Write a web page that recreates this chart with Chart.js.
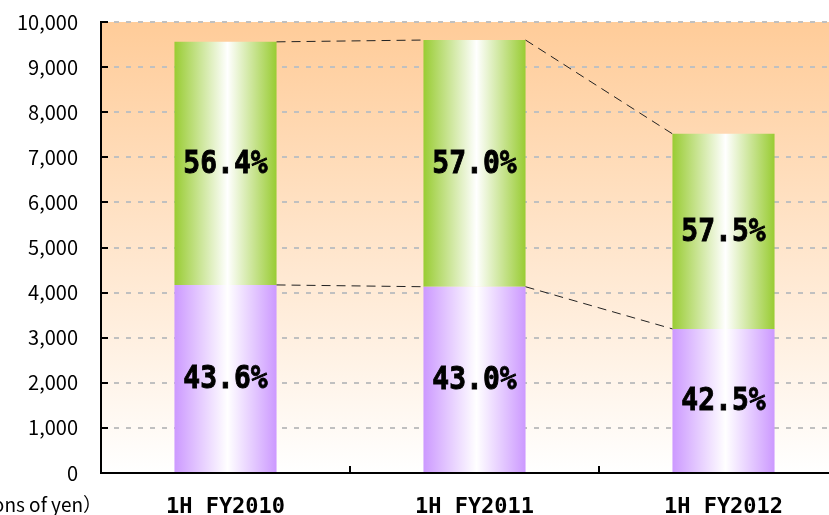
<!DOCTYPE html>
<html>
<head>
<meta charset="utf-8">
<script src="https://cdn.jsdelivr.net/npm/chart.js@4/dist/chart.umd.min.js"></script>
<style>
  html, body { margin: 0; padding: 0; background: #fff; overflow: hidden; width: 829px; height: 515px; }
  canvas { display: block; }
</style>
</head>
<body>
<canvas id="salesChart" width="850" height="515"></canvas>
<script>
// Half-year net sales, split into domestic (bottom) and overseas (top), billions of yen
const categories = ['1H FY2010', '1H FY2011', '1H FY2012'];
const domesticSales = [4170, 4130, 3195];
const overseasSales = [5390, 5470, 4325];
const yAxisMax = 10000;
const yAxisStep = 1000;
const unitLabel = '（Billions of yen）';

const PURPLE = '#CC99FF';
const GREEN = '#99CC33';

// Horizontal "cylinder" shading: solid edge colour fading to white in the middle
function barGradient(edgeColor) {
  return (ctx) => {
    const chart = ctx.chart;
    const xs = chart.scales.x;
    if (!chart.chartArea || !xs) return edgeColor;
    const el = ctx.element;
    let xc, w;
    if (el && el.width) { xc = el.x; w = el.width; }
    else {
      xc = xs.getPixelForTick(ctx.dataIndex);
      w = (chart.chartArea.width / categories.length) * 0.41;
    }
    const g = chart.ctx.createLinearGradient(xc - w / 2, 0, xc + w / 2, 0);
    g.addColorStop(0, edgeColor);
    g.addColorStop(0.52, '#FFFFFF');
    g.addColorStop(1, edgeColor);
    return g;
  };
}

const totals = categories.map((_, i) => domesticSales[i] + overseasSales[i]);

// Plot area background: peach at the top fading to white at the baseline
const plotBackground = {
  id: 'plotBackground',
  beforeDraw(chart) {
    const { ctx, chartArea: a } = chart;
    const g = ctx.createLinearGradient(0, a.top, 0, a.bottom);
    g.addColorStop(0, '#FFCC99');
    g.addColorStop(1, '#FFFFFF');
    ctx.save();
    ctx.fillStyle = g;
    ctx.fillRect(a.left, a.top, a.right - a.left, a.bottom - a.top);
    ctx.restore();
  }
};

// Dashed connectors between neighbouring bars plus share labels inside each segment
const barAnnotations = {
  id: 'barAnnotations',
  afterDatasetsDraw(chart) {
    const { ctx } = chart;
    ctx.save();
    ctx.strokeStyle = '#222';
    ctx.lineWidth = 1;
    ctx.setLineDash([9, 6]);
    chart.data.datasets.forEach((ds, di) => {
      const bars = chart.getDatasetMeta(di).data;
      for (let i = 0; i < bars.length - 1; i++) {
        const a = bars[i], b = bars[i + 1];
        ctx.beginPath();
        ctx.moveTo(a.x + a.width / 2, a.y);
        ctx.lineTo(b.x - b.width / 2, b.y);
        ctx.stroke();
      }
    });
    ctx.setLineDash([]);
    ctx.fillStyle = '#000';
    ctx.font = 'bold 28px "DejaVu Sans Mono", monospace';
    ctx.textAlign = 'center';
    ctx.textBaseline = 'middle';
    chart.data.datasets.forEach((ds, di) => {
      const bars = chart.getDatasetMeta(di).data;
      bars.forEach((bar, i) => {
        const share = (ds.data[i] / totals[i] * 100).toFixed(1) + '%';
        const cy = (bar.y + bar.base) / 2 + 1;
        // slightly condensed, tall lettering
        ctx.save();
        ctx.translate(bar.x, cy);
        ctx.scale(1, 1.15);
        ctx.lineWidth = 0.8;
        ctx.strokeStyle = '#000';
        ctx.fillText(share, 0, 0);
        ctx.strokeText(share, 0, 0);
        ctx.restore();
      });
    });
    ctx.restore();
  }
};

// Inside tick marks on both axes and the unit caption
const axisDecor = {
  id: 'axisDecor',
  afterDraw(chart) {
    const { ctx, chartArea: a, scales } = chart;
    ctx.save();
    ctx.strokeStyle = '#000';
    ctx.lineWidth = 2;
    scales.y.ticks.forEach(t => {
      const y = Math.round(scales.y.getPixelForValue(t.value));
      ctx.beginPath();
      ctx.moveTo(a.left, y);
      ctx.lineTo(a.left + 7, y);
      ctx.stroke();
    });
    const step = (a.right - a.left) / categories.length;
    for (let i = 1; i < categories.length; i++) {
      const x = Math.round(a.left + step * i);
      ctx.beginPath();
      ctx.moveTo(x, a.bottom);
      ctx.lineTo(x, a.bottom - 7);
      ctx.stroke();
    }
    ctx.fillStyle = '#000';
    ctx.font = '19px "Noto Sans CJK JP", sans-serif';
    ctx.textAlign = 'right';
    ctx.textBaseline = 'middle';
    ctx.fillText(unitLabel, 102, 505);
    ctx.restore();
  }
};

new Chart(document.getElementById('salesChart'), {
  type: 'bar',
  data: {
    labels: categories,
    datasets: [
      { label: 'Domestic', data: domesticSales, backgroundColor: barGradient(PURPLE), borderWidth: 0 },
      { label: 'Overseas', data: overseasSales, backgroundColor: barGradient(GREEN), borderWidth: 0 }
    ]
  },
  options: {
    responsive: false,
    animation: false,
    devicePixelRatio: 1,
    layout: { padding: { top: 22, right: 2, left: 0, bottom: 0 } },
    datasets: { bar: { barPercentage: 1, categoryPercentage: 0.41 } },
    plugins: { legend: { display: false }, tooltip: { enabled: false } },
    scales: {
      x: {
        stacked: true,
        grid: { display: false, drawTicks: false },
        border: { display: true, color: '#000', width: 2 },
        ticks: {
          color: '#000',
          padding: 21,
          font: { family: '"DejaVu Sans Mono", monospace', size: 22, weight: 'bold' }
        },
        afterFit(scale) { scale.height = 42; scale.paddingLeft = 0; scale.paddingRight = 0; }
      },
      y: {
        stacked: true,
        min: 0,
        max: yAxisMax,
        grid: { color: '#C0C0C0', lineWidth: 2, drawTicks: false },
        border: { display: true, color: '#000', width: 2, dash: [5, 7] },
        ticks: {
          stepSize: yAxisStep,
          color: '#000',
          padding: 23,
          font: { family: '"Noto Sans CJK JP", sans-serif', size: 20 },
          callback: v => v.toLocaleString('en-US')
        },
        afterFit(scale) { scale.width = 101; scale.paddingTop = 0; scale.paddingBottom = 0; }
      }
    }
  },
  plugins: [plotBackground, barAnnotations, axisDecor]
});
</script>
</body>
</html>
